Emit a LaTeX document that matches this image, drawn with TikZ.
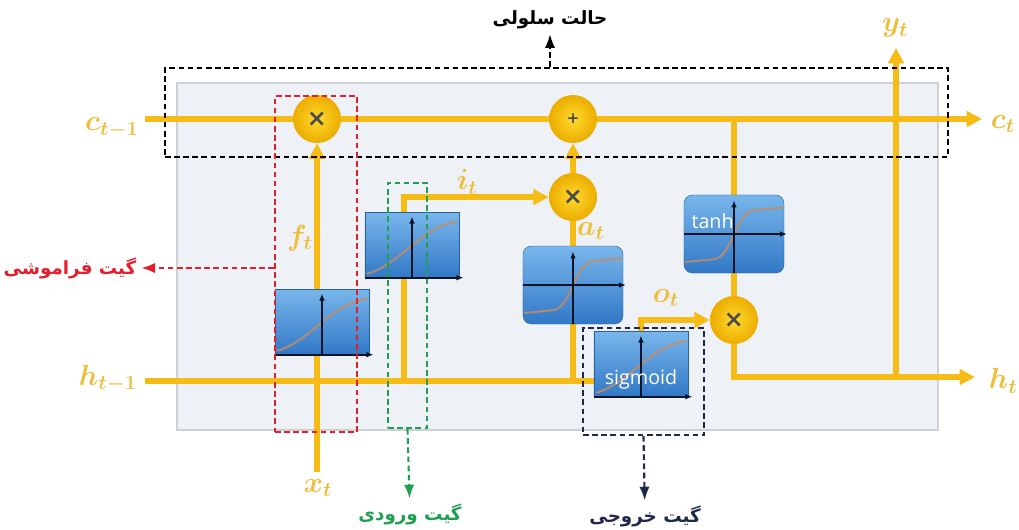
\documentclass[tikz,border=0pt]{standalone}
\usepackage{amsmath}
\usepackage{bm}
\usepackage{fontspec}
\usepackage{tikz}
\usetikzlibrary{arrows.meta,positioning}
\newfontfamily\fafont[Script=Arabic]{DejaVu Sans}
\newfontfamily\boxfont{Open Sans}
\TeXXeTstate=1
\definecolor{gold}{RGB}{246,187,20}
\definecolor{goldtext}{RGB}{238,190,60}
\definecolor{opin}{RGB}{255,218,45}
\definecolor{opout}{RGB}{236,172,0}
\definecolor{gatered}{RGB}{228,30,45}
\definecolor{gategreen}{RGB}{30,160,80}
\definecolor{gatenavy}{RGB}{30,40,75}
\definecolor{boxtop}{RGB}{120,182,235}
\definecolor{boxbot}{RGB}{50,120,198}
\definecolor{axiscol}{RGB}{10,20,40}
\definecolor{curvecol}{RGB}{196,140,100}
\definecolor{panel}{RGB}{238,241,246}
\definecolor{panelline}{RGB}{205,208,214}
\pgfdeclarelayer{background}
\pgfdeclarelayer{lines}
\pgfsetlayers{background,lines,main}

\begin{document}
\begin{tikzpicture}[x=0.025cm, y=-0.025cm, >=Latex,
    flow/.style={draw=gold, line width=3.6pt},
    tip/.style={-{Triangle[length=11pt,width=11pt]}},
    op/.style={circle, minimum size=1.2cm, inner sep=0pt, inner color=opin, outer color=opout, text=black!70, font=\fafont\bfseries\fontsize{17}{17}\selectfont},
    sigbox/.style={rectangle, top color=boxtop, bottom color=boxbot, draw=boxbot!80!black, line width=0.3pt, minimum width=2.35cm, minimum height=1.625cm},
    tanhbox/.style={sigbox, rounded corners=6pt, minimum width=2.5cm, minimum height=1.95cm},
    axis/.style={draw=axiscol, line width=1.3pt, -{Latex[length=5pt,width=4pt]}},
    curve/.style={draw=curvecol, line width=1.4pt, opacity=0.85},
    lab/.style={text=goldtext, font=\fontsize{22}{26}\selectfont},
    gate/.style={line width=1.5pt, dash pattern=on 4pt off 2.5pt, inner sep=0pt},
    fa/.style={font=\fafont\bfseries\fontsize{13}{16}\selectfont},
    boxtxt/.style={text=white, font=\boxfont\fontsize{14}{16}\selectfont}]
    \useasboundingbox (0,0) rectangle (1019,529);

    % panel
    \begin{pgfonlayer}{background}
        \fill[panel, draw=panelline, line width=1pt] (177,83) rectangle (938,430);
    \end{pgfonlayer}

    % pointwise ops
    \node[op] (m1) at (317,119) {×};
    \node[op] (add) at (573,119) {\fontsize{11}{11}\selectfont +};
    \node[op] (m2) at (573,197) {×};
    \node[op] (m3) at (734,320) {×};

    % activation boxes
    \node[sigbox] (fbox) at (322,322) {};
    \node[sigbox] (ibox) at (412,245) {};
    \node[tanhbox] (abox) at (573,285) {};
    \node[tanhbox] (tbox) at (734,234) {};
    \node[sigbox] (obox) at (641,364) {};

    \foreach \b in {fbox,ibox,obox}{
        \begin{scope}[shift={(\b.center)}]
            \draw[curve] (-1.13cm,-0.72cm) .. controls (-0.3cm,-0.5cm) and (0.2cm,0.45cm) .. (1.13cm,0.58cm);
        \end{scope}
        \draw[axis] (\b.south west) -- ([xshift=3pt]\b.south east);
        \draw[axis] (\b.south) -- ([yshift=-3pt]\b.north);
    }
    \foreach \b in {abox,tbox}{
        \begin{scope}[shift={(\b.center)}]
            \draw[curve] (-1.23cm,-0.7cm) -- (-0.5cm,-0.63cm) .. controls (-0.05cm,-0.58cm) and (0.05cm,0.55cm) .. (0.5cm,0.6cm) -- (1.23cm,0.66cm);
        \end{scope}
        \draw[axis] (\b.west) -- ([xshift=2pt]\b.east);
        \draw[axis] (\b.south) -- ([yshift=-4pt]\b.north);
    }
    \node[boxtxt, anchor=north west] (tanhtxt) at ([shift={(2pt,-10pt)}]tbox.north west) {tanh};
    \node[boxtxt] (sigtxt) at ([yshift=12pt]obox.south) {sigmoid};

    % flows
    \coordinate (cin) at (145,119);
    \coordinate (cout) at (982,119);
    \coordinate (hin) at (145,381);
    \coordinate (xin) at (317,472);
    \coordinate (ibr) at (404,381);
    \coordinate (tbr) at (734,119);
    \coordinate (hout) at (975,377);
    \coordinate (ybr) at (896,377);
    \coordinate (yout) at (896,48);
    \begin{pgfonlayer}{lines}
        \draw[flow] (cin) -- (m1) -- (add);
        \draw[flow, tip] (add) -- (cout);
        \draw[flow, tip] (xin) -- (m1);
        \draw[flow, tip] (ibr) |- (m2);
        \draw[flow] (abox) -- (m2);
        \draw[flow, tip] (m2) -- (add);
        \draw[flow] (hin) -- (hin -| obox.west);
        \draw[flow] (hin -| abox) -- (abox);
        \draw[flow, tip] (obox) |- (m3);
        \draw[flow] (tbr) -- (tbox);
        \draw[flow] (tbox) -- (m3);
        \draw[flow, tip] (m3) |- (hout);
        \draw[flow, tip] (ybr) -- (yout);
    \end{pgfonlayer}

    % labels
    \node[lab] (cprev) at (112,128) {$\bm{c_{t-1}}$};
    \node[lab, anchor=west] (cnext) at (986,124) {$\bm{c_t}$};
    \node[lab] (hprev) at (108,379) {$\bm{h_{t-1}}$};
    \node[lab, anchor=west] (hnext) at (984,381) {$\bm{h_t}$};
    \node[lab] (xlab) at (318,488) {$\bm{x_t}$};
    \node[lab] (ylab) at (895,28) {$\bm{y_t}$};
    \node[lab] (flab) at (300,238) {$\bm{f_t}$};
    \node[lab] (ilab) at (467,182) {$\bm{i_t}$};
    \node[lab] (alab) at (591,231) {$\bm{a_t}$};
    \node[lab] (olab) at (666,298) {$\bm{o_t}$};

    % gates
    \node[gate, draw=black, minimum width=19.575cm, minimum height=2.225cm] (cellgate) at (556.5,112.5) {};
    \node[gate, draw=gatered, minimum width=2.05cm, minimum height=8.4cm] (fgate) at (316,264) {};
    \node[gate, draw=gategreen, minimum width=0.975cm, minimum height=6.125cm] (igate) at (407.5,305.5) {};
    \node[gate, draw=gatenavy, minimum width=3.025cm, minimum height=2.675cm] (ogate) at (643.5,381.5) {};

    \node[fa, text=black] (cellfa) at (550,20) {\beginR حالت سلولی\endR};
    \node[fa, text=gatered] (forgetfa) at (70,268) {\beginR گیت فراموشی\endR};
    \node[fa, text=gategreen] (inputfa) at (410,514) {\beginR گیت ورودی\endR};
    \node[fa, text=gatenavy] (outputfa) at (645,516) {\beginR گیت خروجی\endR};

    \draw[gate, ->] (cellgate.north -| cellfa) -- (cellfa);
    \draw[gate, gatered, ->] (fgate.west |- forgetfa) -- (forgetfa);
    \draw[gate, gategreen, ->] (igate.south) -- (inputfa);
    \draw[gate, gatenavy, ->] (ogate.south) -- (outputfa);
\end{tikzpicture}
\end{document}
